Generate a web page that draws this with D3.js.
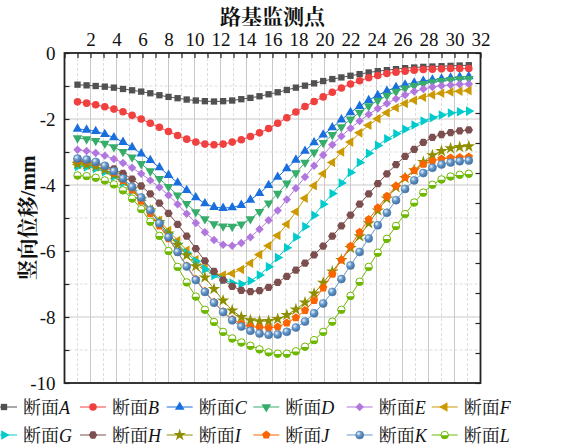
<!DOCTYPE html>
<html>
<head>
<meta charset="utf-8">
<script src="https://cdn.jsdelivr.net/npm/d3@7"></script>
<style>
  html, body { margin: 0; padding: 0; background: #fff; }
  svg { display: block; }
  text { font-family: "Liberation Serif", "Times New Roman", "Noto Serif CJK SC", "Noto Sans CJK SC", serif; fill: #111; }
</style>
</head>
<body>
<svg id="chart" width="566" height="448"></svg>
<script>
// ---- data: vertical displacement (mm) of 12 sections along the subgrade ----
const sectionNames = ["A", "B", "C", "D", "E", "F", "G", "H", "I", "J", "K", "L"];
const sectionColors = ["#515151", "#F14040", "#1A6FDF", "#37AD6B", "#B177DE", "#CC9900",
                       "#00CBCC", "#7D4E4E", "#8E8E00", "#FB6501", "#6699CC", "#6FB802"];
const xTickLabels = [2, 4, 6, 8, 10, 12, 14, 16, 18, 20, 22, 24, 26, 28, 30, 32];
const yTickLabels = [0, -2, -4, -6, -8, -10];

const sectionA = [-0.96,-0.98,-1.00,-1.02,-1.05,-1.09,-1.13,-1.17,-1.22,-1.28,-1.33,-1.37,-1.41,-1.44,-1.46,-1.47,-1.46,-1.44,-1.40,-1.36,-1.31,-1.25,-1.19,-1.12,-1.05,-0.99,-0.92,-0.85,-0.79,-0.74,-0.69,-0.64,-0.59,-0.55,-0.52,-0.49,-0.46,-0.44,-0.42,-0.41,-0.40,-0.39,-0.38,-0.37];
const sectionB = [-1.48,-1.52,-1.57,-1.63,-1.70,-1.78,-1.89,-2.00,-2.13,-2.25,-2.38,-2.50,-2.61,-2.70,-2.76,-2.78,-2.76,-2.70,-2.63,-2.53,-2.42,-2.29,-2.13,-1.96,-1.79,-1.62,-1.47,-1.33,-1.19,-1.06,-0.94,-0.84,-0.75,-0.68,-0.62,-0.58,-0.55,-0.52,-0.50,-0.49,-0.48,-0.47,-0.47,-0.47];
const sectionC = [-2.30,-2.33,-2.37,-2.46,-2.56,-2.70,-2.86,-3.05,-3.25,-3.47,-3.70,-3.93,-4.16,-4.38,-4.56,-4.67,-4.70,-4.68,-4.61,-4.45,-4.25,-4.01,-3.76,-3.50,-3.24,-2.97,-2.71,-2.48,-2.26,-2.02,-1.80,-1.61,-1.43,-1.28,-1.15,-1.04,-0.96,-0.90,-0.85,-0.81,-0.78,-0.75,-0.73,-0.71];
const sectionD = [-2.58,-2.61,-2.66,-2.74,-2.85,-2.99,-3.16,-3.36,-3.58,-3.81,-4.05,-4.31,-4.57,-4.82,-5.03,-5.18,-5.25,-5.26,-5.19,-5.03,-4.81,-4.55,-4.26,-3.95,-3.64,-3.32,-3.01,-2.72,-2.48,-2.24,-2.01,-1.80,-1.61,-1.44,-1.29,-1.17,-1.07,-0.99,-0.93,-0.88,-0.84,-0.81,-0.79,-0.78];
const sectionE = [-2.93,-2.97,-3.03,-3.11,-3.21,-3.33,-3.48,-3.66,-3.86,-4.07,-4.31,-4.58,-4.87,-5.15,-5.43,-5.67,-5.81,-5.84,-5.76,-5.58,-5.34,-5.07,-4.77,-4.44,-4.10,-3.76,-3.42,-3.09,-2.78,-2.52,-2.28,-2.06,-1.86,-1.68,-1.53,-1.39,-1.27,-1.17,-1.09,-1.03,-0.99,-0.97,-0.95,-0.94];
const sectionF = [-3.38,-3.40,-3.45,-3.55,-3.69,-3.88,-4.12,-4.41,-4.74,-5.07,-5.38,-5.68,-5.98,-6.26,-6.50,-6.67,-6.73,-6.68,-6.56,-6.37,-6.11,-5.84,-5.53,-5.19,-4.81,-4.40,-4.02,-3.66,-3.32,-3.00,-2.70,-2.42,-2.19,-1.99,-1.81,-1.66,-1.53,-1.43,-1.34,-1.27,-1.22,-1.18,-1.16,-1.14];
const sectionG = [-3.44,-3.45,-3.50,-3.60,-3.74,-3.93,-4.17,-4.46,-4.80,-5.14,-5.47,-5.78,-6.06,-6.31,-6.55,-6.74,-6.88,-6.97,-7.00,-6.90,-6.73,-6.48,-6.20,-5.90,-5.58,-5.26,-4.92,-4.58,-4.26,-3.94,-3.62,-3.32,-3.04,-2.80,-2.60,-2.45,-2.31,-2.18,-2.06,-1.96,-1.88,-1.82,-1.78,-1.76];
const sectionH = [-3.27,-3.29,-3.33,-3.41,-3.51,-3.65,-3.82,-4.03,-4.27,-4.55,-4.86,-5.19,-5.55,-5.93,-6.30,-6.62,-6.88,-7.07,-7.19,-7.23,-7.20,-7.10,-6.95,-6.77,-6.58,-6.37,-6.12,-5.85,-5.55,-5.24,-4.91,-4.58,-4.27,-3.96,-3.66,-3.38,-3.13,-2.92,-2.71,-2.56,-2.47,-2.41,-2.36,-2.33];
const sectionI = [-3.36,-3.38,-3.43,-3.53,-3.68,-3.88,-4.13,-4.43,-4.77,-5.12,-5.47,-5.81,-6.13,-6.46,-6.80,-7.15,-7.50,-7.80,-8.00,-8.10,-8.13,-8.12,-8.06,-7.94,-7.77,-7.56,-7.29,-6.96,-6.62,-6.27,-5.91,-5.55,-5.16,-4.77,-4.41,-4.07,-3.79,-3.55,-3.30,-3.10,-2.97,-2.89,-2.85,-2.83];
const sectionJ = [-3.24,-3.27,-3.33,-3.44,-3.62,-3.86,-4.15,-4.49,-4.86,-5.24,-5.63,-6.04,-6.45,-6.85,-7.22,-7.55,-7.84,-8.07,-8.21,-8.29,-8.32,-8.33,-8.30,-8.18,-8.02,-7.80,-7.50,-7.12,-6.70,-6.27,-5.85,-5.43,-5.04,-4.69,-4.34,-4.03,-3.77,-3.56,-3.37,-3.27,-3.21,-3.18,-3.16,-3.15];
const sectionK = [-3.20,-3.23,-3.30,-3.42,-3.58,-3.80,-4.06,-4.38,-4.76,-5.16,-5.58,-6.03,-6.47,-6.88,-7.24,-7.57,-7.85,-8.10,-8.29,-8.42,-8.50,-8.54,-8.53,-8.45,-8.32,-8.14,-7.89,-7.59,-7.24,-6.85,-6.44,-6.03,-5.62,-5.22,-4.84,-4.46,-4.12,-3.86,-3.64,-3.48,-3.38,-3.32,-3.28,-3.26];
const sectionL = [-3.71,-3.73,-3.78,-3.86,-3.98,-4.16,-4.41,-4.73,-5.11,-5.54,-6.00,-6.48,-6.95,-7.38,-7.78,-8.15,-8.45,-8.65,-8.77,-8.87,-8.98,-9.07,-9.11,-9.11,-9.04,-8.90,-8.70,-8.45,-8.14,-7.78,-7.36,-6.93,-6.48,-6.05,-5.63,-5.24,-4.88,-4.53,-4.23,-3.99,-3.83,-3.74,-3.69,-3.66];

const sectionValues = [sectionA, sectionB, sectionC, sectionD, sectionE, sectionF,
                       sectionG, sectionH, sectionI, sectionJ, sectionK, sectionL];
const markerTypes = ["square", "circle", "triUp", "triDown", "diamond", "triLeft",
                     "triRight", "hexagon", "star", "pentagon", "ball", "half"];

// ---- layout ----
const svg = d3.select("#chart");
const plot = { left: 64.5, right: 480.5, top: 53, bottom: 383 };

const xTop = d3.scaleLinear().domain([0, 32]).range([plot.left, plot.right]);
const y = d3.scaleLinear().domain([-10, 0]).range([plot.bottom, plot.top]);
// sample index -> horizontal position (first sample at station 1, last at 31.1)
const nSamples = sectionA.length;
const xSample = d3.scaleLinear().domain([0, nSamples - 1]).range([xTop(1), xTop(31.1)]);
// unlabeled right-hand ruler with 11 equal divisions
const yRight = d3.scaleLinear().domain([0, 11]).range([plot.bottom, plot.top]);

const defs = svg.append("defs");
const ball = defs.append("radialGradient").attr("id", "ballK")
  .attr("cx", "35%").attr("cy", "32%").attr("r", "70%");
ball.append("stop").attr("offset", "0%").attr("stop-color", "#eef4fb");
ball.append("stop").attr("offset", "45%").attr("stop-color", "#6699CC");
ball.append("stop").attr("offset", "100%").attr("stop-color", "#3f6d9c");

// ---- grid ----
const grid = svg.append("g");
d3.range(1, 32).forEach(v => {
  grid.append("line")
    .attr("x1", xTop(v)).attr("x2", xTop(v))
    .attr("y1", plot.top).attr("y2", plot.bottom)
    .attr("stroke", v % 2 === 0 ? "#c9c9c9" : "#dddddd")
    .attr("stroke-width", 1)
    .attr("stroke-dasharray", v % 2 === 0 ? null : "3,2");
});
d3.range(-9, 0).forEach(v => {
  grid.append("line")
    .attr("x1", plot.left).attr("x2", plot.right)
    .attr("y1", y(v)).attr("y2", y(v))
    .attr("stroke", v % 2 === 0 ? "#c9c9c9" : "#dddddd")
    .attr("stroke-width", 1)
    .attr("stroke-dasharray", v % 2 === 0 ? null : "3,2");
});

// ---- markers ----
function polygonPath(n, r, rot) {
  const pts = d3.range(n).map(k => {
    const a = rot + 2 * Math.PI * k / n;
    return [r * Math.cos(a), r * Math.sin(a)];
  });
  return "M" + pts.map(p => p[0].toFixed(2) + "," + p[1].toFixed(2)).join("L") + "Z";
}
const triPath = d3.symbol(d3.symbolTriangle, 40)();
function drawMarker(g, type, color) {
  switch (type) {
    case "square":
      g.append("path").attr("d", d3.symbol(d3.symbolSquare, 40)()).attr("fill", color);
      break;
    case "circle":
      g.append("circle").attr("r", 3.8).attr("fill", color);
      break;
    case "triUp":
      g.append("path").attr("d", triPath).attr("fill", color);
      break;
    case "triDown":
      g.append("path").attr("d", triPath).attr("transform", "rotate(180)").attr("fill", color);
      break;
    case "triLeft":
      g.append("path").attr("d", triPath).attr("transform", "rotate(-90)").attr("fill", color);
      break;
    case "triRight":
      g.append("path").attr("d", triPath).attr("transform", "rotate(90)").attr("fill", color);
      break;
    case "diamond":
      g.append("path").attr("d", d3.symbol(d3.symbolSquare, 36)()).attr("transform", "rotate(45)").attr("fill", color);
      break;
    case "hexagon":
      g.append("path").attr("d", polygonPath(6, 4.2, 0)).attr("fill", color);
      break;
    case "star":
      g.append("path").attr("d", d3.symbol(d3.symbolStar, 48)()).attr("fill", color);
      break;
    case "pentagon":
      g.append("path").attr("d", polygonPath(5, 4.4, -Math.PI / 2)).attr("fill", color);
      break;
    case "ball":
      g.append("circle").attr("r", 4).attr("fill", "url(#ballK)").attr("stroke", "#4f7fb0").attr("stroke-width", 0.6);
      break;
    case "half":
      g.append("circle").attr("r", 3.7).attr("fill", "#fff").attr("stroke", color).attr("stroke-width", 1);
      g.append("path").attr("d", "M-3.7,0.3A3.7,3.7 0 0 0 3.7,0.3Z").attr("fill", color);
      break;
  }
}

// ---- series ----
const line = d3.line().x((d, i) => xSample(i)).y(d => y(d));
const seriesLayer = svg.append("g");
sectionValues.forEach((vals, si) => {
  const color = sectionColors[si];
  const g = seriesLayer.append("g");
  g.append("path").datum(vals).attr("d", line)
    .attr("fill", "none").attr("stroke", color).attr("stroke-width", 1);
  vals.forEach((v, i) => {
    const m = g.append("g").attr("transform", `translate(${xSample(i)},${y(v)})`);
    drawMarker(m, markerTypes[si], color);
  });
});

// ---- axes ----
const axisColor = "#222";
const topAxis = d3.axisTop(xTop)
  .tickValues(d3.range(0, 33))
  .tickFormat(d => xTickLabels.includes(d) ? String(d) : "")
  .tickSizeInner(-5).tickSizeOuter(0).tickPadding(7);
const gTop = svg.append("g").attr("transform", `translate(0,${plot.top})`).call(topAxis);

const leftAxis = d3.axisLeft(y)
  .tickValues(d3.range(-10, 1))
  .tickFormat(d => yTickLabels.includes(d) ? String(d) : "")
  .tickSizeInner(-5).tickSizeOuter(0).tickPadding(9);
const gLeft = svg.append("g").attr("transform", `translate(${plot.left},0)`).call(leftAxis);

const rightAxis = d3.axisRight(yRight)
  .tickValues(d3.range(0, 12))
  .tickFormat("")
  .tickSizeInner(-5).tickSizeOuter(0);
const gRight = svg.append("g").attr("transform", `translate(${plot.right},0)`).call(rightAxis);

[gTop, gLeft, gRight].forEach(g => {
  g.select(".domain").remove();
  g.selectAll(".tick line").attr("stroke", axisColor).attr("stroke-width", 1.2);
  g.selectAll(".tick text").attr("font-size", 19)
    .attr("font-family", "'Liberation Serif', 'Times New Roman', serif").attr("fill", "#111");
});

// frame
svg.append("rect")
  .attr("x", plot.left).attr("y", plot.top)
  .attr("width", plot.right - plot.left).attr("height", plot.bottom - plot.top)
  .attr("fill", "none").attr("stroke", axisColor).attr("stroke-width", 1.8);

// ---- titles ----
svg.append("text")
  .attr("x", (plot.left + plot.right) / 2).attr("y", 24)
  .attr("text-anchor", "middle")
  .attr("font-size", 21).attr("font-weight", "bold")
  .text("路基监测点");

svg.append("text")
  .attr("transform", `translate(28,${(plot.top + plot.bottom) / 2}) rotate(-90)`)
  .attr("text-anchor", "middle").attr("dominant-baseline", "central")
  .attr("font-size", 21).attr("font-weight", "bold")
  .text("竖向位移/mm");

// ---- legend (2 rows x 6 columns) ----
const legendCols = [-9, 80, 166.7, 253.3, 346.7, 431.7];
const legendRows = [407, 435];
sectionNames.forEach((name, si) => {
  const col = si % 6, row = Math.floor(si / 6);
  const x0 = legendCols[col], yc = legendRows[row];
  const g = svg.append("g");
  g.append("line").attr("x1", x0).attr("x2", x0 + 26).attr("y1", yc).attr("y2", yc)
    .attr("stroke", sectionColors[si]).attr("stroke-width", 1);
  const m = g.append("g").attr("transform", `translate(${x0 + 13},${yc})`);
  drawMarker(m, markerTypes[si], sectionColors[si]);
  const t = g.append("text").attr("x", x0 + 32).attr("y", yc + 7).attr("font-size", 18);
  t.append("tspan").text("断面");
  t.append("tspan").attr("font-style", "italic").text(name);
});
</script>
</body>
</html>
